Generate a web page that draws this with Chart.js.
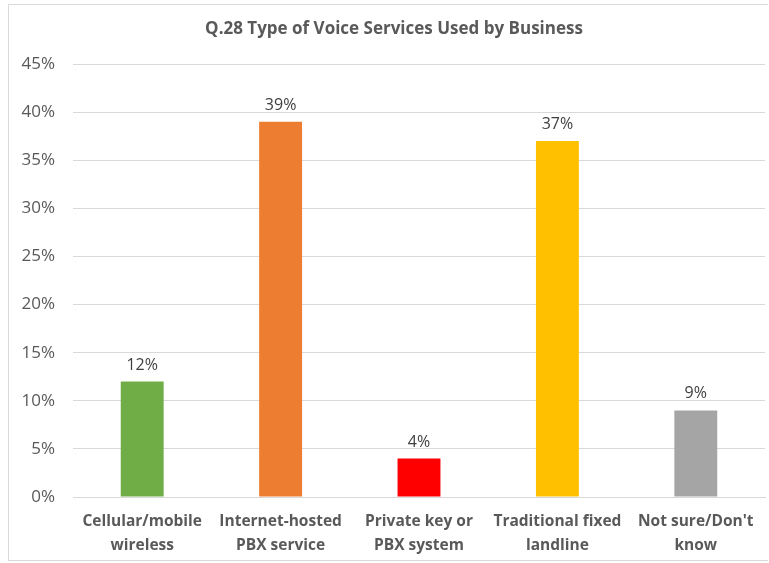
<!DOCTYPE html>
<html>
<head>
<meta charset="utf-8">
<script src="https://cdn.jsdelivr.net/npm/chart.js@4.4.1/dist/chart.umd.min.js"></script>
<style>
    html, body { margin: 0; padding: 0; background: #fff; }
    #frame {
        position: absolute; left: 8px; top: 4px; width: 760px; height: 557px;
        border: 1px solid #d9d9d9; border-right: none; box-sizing: border-box;
    }
    #wrap { position: absolute; left: 0; top: 0; width: 769px; height: 563px; }
</style>
</head>
<body>
<div id="frame"></div>
<div id="wrap"><canvas id="voice-chart" width="769" height="563"></canvas></div>
<script>
const categories = [
    ['Cellular/mobile', 'wireless'],
    ['Internet-hosted', 'PBX service'],
    ['Private key or', 'PBX system'],
    ['Traditional fixed', 'landline'],
    ['Not sure/Don\'t', 'know']
];
const shares = [12, 39, 4, 37, 9];
const barColors = ['#70AD47', '#ED7D31', '#FF0000', '#FFC000', '#A5A5A5'];
const titleText = 'Q.28 Type of Voice Services Used by Business';

const fontFamily = "'Open Sans', 'Noto Sans', sans-serif";
const textColor = '#595959';

// draws the value above each bar (no datalabels plugin offline)
const valueLabels = {
    id: 'valueLabels',
    afterDatasetsDraw(chart) {
        const ctx = chart.ctx;
        const meta = chart.getDatasetMeta(0);
        ctx.save();
        ctx.font = "16px " + fontFamily;
        ctx.fillStyle = '#404040';
        ctx.textAlign = 'center';
        ctx.textBaseline = 'alphabetic';
        meta.data.forEach((bar, i) => {
            ctx.fillText(shares[i] + '%', bar.x, bar.y - 12);
        });
        ctx.restore();
    }
};

// title centred over the chart frame rather than the canvas
const frameTitle = {
    id: 'frameTitle',
    afterDraw(chart) {
        const ctx = chart.ctx;
        ctx.save();
        ctx.font = "bold 17px " + fontFamily;
        ctx.fillStyle = textColor;
        ctx.textAlign = 'center';
        ctx.textBaseline = 'middle';
        ctx.fillText(titleText, 394, 29);
        ctx.restore();
    }
};

new Chart(document.getElementById('voice-chart'), {
    type: 'bar',
    data: {
        labels: categories,
        datasets: [{
            data: shares,
            backgroundColor: barColors,
            categoryPercentage: 1,
            barPercentage: 0.31
        }]
    },
    options: {
        responsive: false,
        animation: false,
        layout: { padding: { top: 64, right: 4, bottom: 5, left: 0 } },
        plugins: {
            legend: { display: false },
            tooltip: { enabled: false },
            title: { display: false }
        },
        scales: {
            y: {
                min: 0,
                max: 45,
                ticks: {
                    stepSize: 5,
                    padding: 18,
                    color: textColor,
                    font: { family: fontFamily, size: 17 },
                    callback: (v) => v + '%'
                },
                grid: { color: '#d9d9d9', drawTicks: false },
                border: { display: false },
                afterFit: (scale) => { scale.width = 73; }
            },
            x: {
                ticks: {
                    color: textColor,
                    padding: 13,
                    font: { family: fontFamily, size: 15.5, weight: 'bold', lineHeight: 1.55 },
                    maxRotation: 0
                },
                grid: { display: false, drawTicks: false },
                border: { color: '#d9d9d9' },
                afterFit: (scale) => { scale.height = 61; }
            }
        }
    },
    plugins: [valueLabels, frameTitle]
});
</script>
</body>
</html>
